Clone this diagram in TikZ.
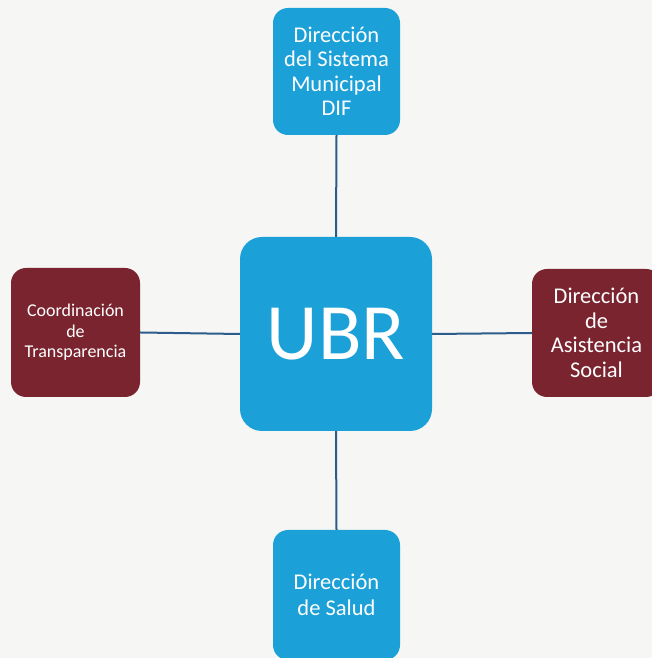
\documentclass[tikz,border=0pt]{standalone}
\usepackage{fontspec}
\setmainfont{Carlito}
\definecolor{boxblue}{RGB}{28,160,216}
\definecolor{boxred}{RGB}{122,36,48}
\definecolor{linkblue}{RGB}{44,92,138}
\definecolor{paper}{RGB}{246,246,244}
\begin{document}
\begin{tikzpicture}[x=1pt,y=1pt,
  bluebox/.style={fill=boxblue,text=white,rounded corners=15pt,align=center,inner sep=0pt},
  redbox/.style={fill=boxred,text=white,rounded corners=15pt,align=center,inner sep=0pt},
  link/.style={draw=linkblue,line width=2pt}]
\useasboundingbox (0,0) rectangle (652,658);
\clip (0,0) rectangle (652,658);
\fill[paper] (0,0) rectangle (652,658);
\node[bluebox,minimum width=127pt,minimum height=127pt,font=\fontsize{22.5}{24.5}\selectfont] (dif) at (336.5,586.5) {Dirección\\del Sistema\\Municipal\\DIF};
\node[bluebox,rounded corners=22pt,minimum width=192pt,minimum height=194pt,font=\fontsize{80}{90}\selectfont] (ubr) at (336,324) {UBR};
\node[redbox,minimum width=129pt,minimum height=129pt,font=\fontsize{18}{20.5}\selectfont] (coord) at (75.5,325.5) {Coordinación\\de\\Transparencia};
\node[redbox,minimum width=129pt,minimum height=128pt,font=\fontsize{22.5}{24.5}\selectfont] (asist) at (596.5,325) {Dirección\\de\\Asistencia\\Social};
\node[bluebox,minimum width=127pt,minimum height=130pt,font=\fontsize{22.5}{26}\selectfont] (salud) at (336.5,63) {Dirección\\de Salud};
\draw[link] (dif.south) -- (ubr.north);
\draw[link] (ubr.south) -- (salud.north);
\draw[link] (coord.east) -- (ubr.west);
\draw[link] (ubr.east) -- (asist.west);
\end{tikzpicture}
\end{document}
